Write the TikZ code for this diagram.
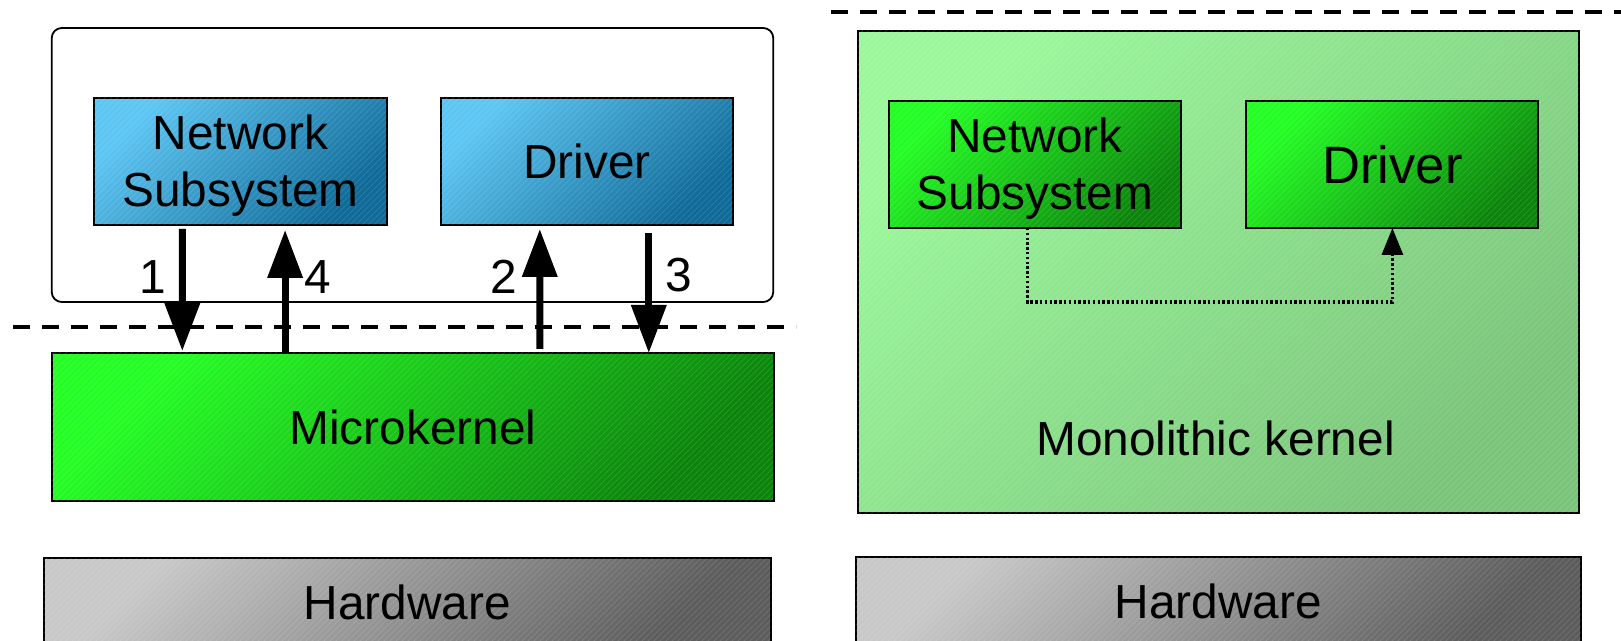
\documentclass[tikz,border=0pt]{standalone}
\usepackage{fontspec}
\setmainfont{Liberation Sans}
\usetikzlibrary{arrows.meta,patterns,calc}
\definecolor{bluelt}{HTML}{5CC6F4}
\definecolor{bluedk}{HTML}{0E6A98}
\definecolor{greenlt}{HTML}{22FF22}
\definecolor{greendk}{HTML}{0A850A}
\definecolor{palelt}{HTML}{9AF89A}
\definecolor{paledk}{HTML}{7AC47A}
\definecolor{graylt}{HTML}{C8C8C8}
\definecolor{graydk}{HTML}{5C5C5C}
\begin{document}
\begin{tikzpicture}[x=0.5pt,y=-0.5pt,
  txt/.style={font=\fontsize{23.9}{28.5}\selectfont},
  box/.style={draw=black, line width=1pt, inner sep=0pt, outer sep=0pt, anchor=center, align=center, txt},
  grad/.style 2 args={top color=#1, bottom color=#2, shading angle=45,
     postaction={pattern=north east lines, pattern color=white, opacity=0.12}},
  smallbox/.style={box, minimum width=146.3pt, minimum height=63.5pt},
  lbl/.style={txt, inner sep=0pt, anchor=center, align=center},
  bigarrow/.style={line width=3.5pt, -{Triangle[length=24pt,width=17pt]}},
  sep/.style={line width=1.8pt, dash pattern=on 8.5pt off 6pt},
  dotarrow/.style={line width=1.6pt, dash pattern=on 1.2pt off 1.2pt, -{Triangle[length=13.5pt,width=10.5pt]}}
]
\clip (0,0) rectangle (1621,641);
\fill[white] (0,0) rectangle (1621,641);

% ---- left: microkernel ----
\node[box, line width=0.9pt, rounded corners=5pt, minimum width=360.75pt, minimum height=137pt] (userL) at (412.5,165) {};
\node[smallbox, grad={bluelt}{bluedk}] (netL) at (240.5,161.5) {};
\node[lbl] (netLt) at ($(netL.center)+(0,4.5)$) {Network\\Subsystem};
\node[smallbox, grad={bluelt}{bluedk}] (drvL) at (587,161.5) {Driver};
\node[box, minimum width=361pt, minimum height=74pt, grad={greenlt}{greendk}] (micro) at (412.8,427) {Microkernel};
\node[box, minimum width=363.4pt, minimum height=44pt, grad={graylt}{graydk}] (hwL) at (407.3,602) {Hardware};

\coordinate (dl1) at (13,327);
\coordinate (dl2) at (796,327);
\draw[sep] (dl1) -- (dl2);

\draw[bigarrow] ($(netL.south)+(-58.2,4)$) -- ($(micro.north)+(-230.5,-2)$);
\draw[bigarrow] ($(micro.north)+(-127.7,0)$) -- ($(netL.south)+(44.6,5)$);
\draw[bigarrow] ($(micro.north)+(127,-4)$) -- ($(drvL.south)+(-47.2,4)$);
\draw[bigarrow] ($(drvL.south)+(61.8,8)$) -- ($(micro.north)+(236,0)$);

\node[lbl] (l1) at (152.4,277) {1};
\node[lbl] (l4) at (317.7,277) {4};
\node[lbl] (l2) at (503.6,277) {2};
\node[lbl] (l3) at (679.2,275) {3};

% ---- right: monolithic ----
\coordinate (dr1) at (830.7,12);
\coordinate (dr2) at (1625,12);
\draw[sep] (dr1) -- (dr2);

\node[box, minimum width=360.5pt, minimum height=241pt, grad={palelt}{paledk}] (mono) at (1218.5,272) {};
\node[smallbox, minimum width=146pt, grad={greenlt}{greendk}] (netR) at (1035,164.5) {};
\node[lbl] (netRt) at ($(netR.center)+(0,4)$) {Network\\Subsystem};
\node[smallbox, minimum width=146pt, grad={greenlt}{greendk}, font=\fontsize{26.3}{30}\selectfont] (drvR) at (1392.4,164.5) {Driver};
\node[lbl] (monoT) at (1215.5,438) {Monolithic kernel};
\node[box, minimum width=362.75pt, minimum height=44pt, grad={graylt}{graydk}] (hwR) at (1218.25,601) {Hardware};

\draw[dotarrow] ($(netR.south)+(-7.5,0)$) -- ++(0,74) -| (drvR.south);
\end{tikzpicture}
\end{document}
